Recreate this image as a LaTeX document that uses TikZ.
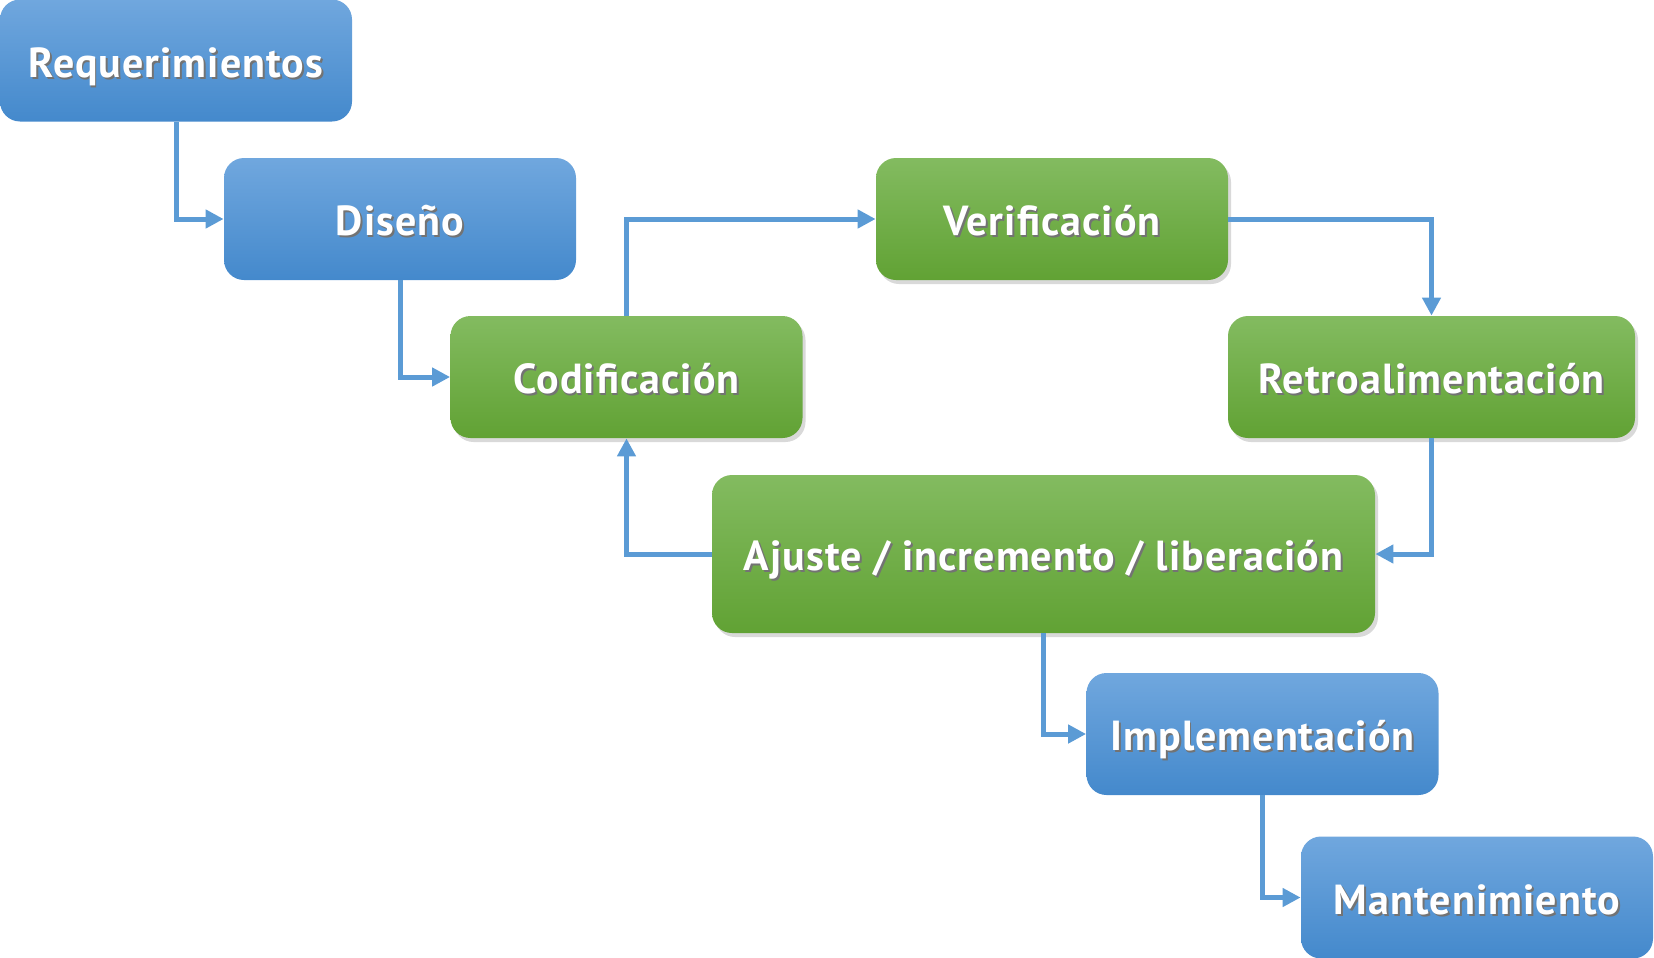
\documentclass[tikz,border=0pt]{standalone}
\usepackage{fontspec}
\setmainfont{PT Sans}[LetterSpace=2.5]
\usetikzlibrary{arrows.meta,shadows}
\definecolor{blueTop}{RGB}{112,167,222}
\definecolor{blueBot}{RGB}{68,137,204}
\definecolor{greenTop}{RGB}{131,187,96}
\definecolor{greenBot}{RGB}{97,162,52}
\definecolor{linkBlue}{RGB}{91,155,213}

% white label with a small dark shadow behind it
\newcommand{\phasetext}[1]{\rlap{\hspace{0.9pt}\raisebox{-0.9pt}{\color{black!55}#1}}#1}

\begin{document}
\begin{tikzpicture}[
    x=0.5pt, y=-0.5pt,
    phase/.style={
      rectangle,
      rounded corners=10pt,
      inner sep=0pt,
      minimum width=176pt,
      minimum height=61pt,
      text height=16.8pt,
      text depth=0pt,
      text=white,
      font=\bfseries\fontsize{21}{25}\selectfont,
    },
    bluephase/.style={phase, top color=blueTop, bottom color=blueBot},
    greenphase/.style={
      phase,
      top color=greenTop,
      bottom color=greenBot,
      drop shadow={opacity=0.3, shadow xshift=1.5pt, shadow yshift=-2pt},
    },
    link/.style={-{Triangle[length=9pt,width=9pt]}, line width=2.5pt, color=linkBlue},
  ]
  \useasboundingbox (0,0) rectangle (1654,958);

  % phases
  \node[bluephase] (req) at (176,60.5) {\phasetext{Requerimientos}};
  \node[bluephase] (dis) at (400,219) {\phasetext{Diseño}};
  \node[greenphase] (cod) at (626.5,377) {\phasetext{Codificación}};
  \node[greenphase] (ver) at (1052,219) {\phasetext{Verificación}};
  \node[greenphase, minimum width=203.5pt] (ret) at (1431.5,377) {\phasetext{Retroalimentación}};
  \node[greenphase, minimum width=331.5pt, minimum height=79pt] (aju) at (1043.5,554)
    {\phasetext{Ajuste / incremento / liberación}};
  \node[bluephase] (imp) at (1262.5,734) {\phasetext{Implementación}};
  \node[bluephase] (man) at (1477,897.5) {\phasetext{Mantenimiento}};

  % connectors
  \draw[link] (req.south) |- (dis.west);
  \draw[link] (dis.south) |- (cod.west);
  \draw[link] (cod.north) |- (ver.west);
  \draw[link] (ver.east) -| (ret.north);
  \draw[link] (ret.south) |- (aju.east);
  \draw[link] (aju.west) -| (cod.south);
  \draw[link] (aju.south) |- (imp.west);
  \draw[link] (imp.south) |- (man.west);
\end{tikzpicture}
\end{document}
